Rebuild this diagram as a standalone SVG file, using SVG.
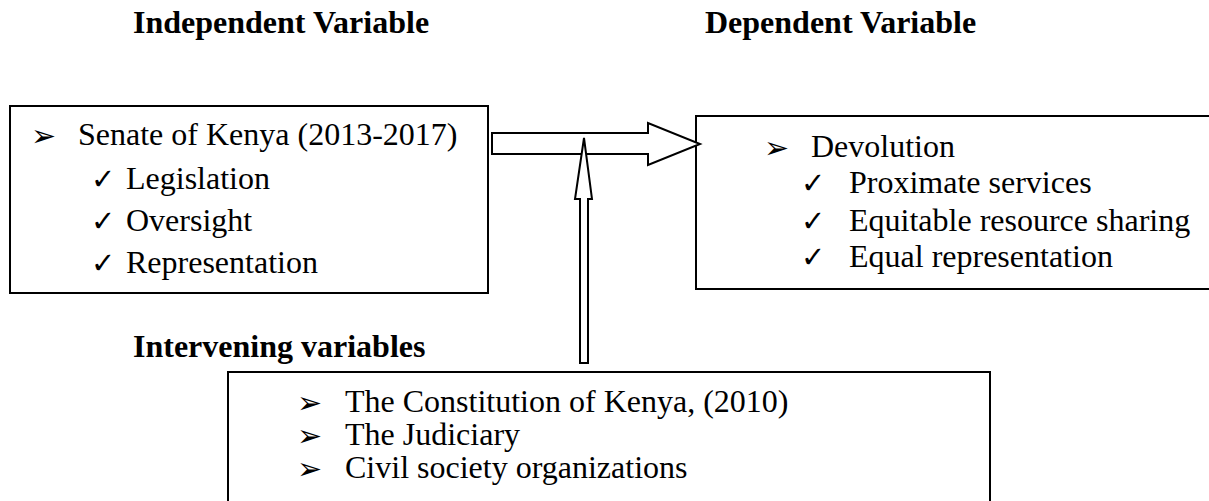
<svg xmlns="http://www.w3.org/2000/svg" width="1209" height="501" viewBox="0 0 1209 501">
<style>
.box{fill:#fff;stroke:#000;stroke-width:2}
.arrow{fill:#fff;stroke:#000;stroke-width:2;stroke-linejoin:miter}
.h{font-family:"Liberation Serif","Times New Roman",serif;font-weight:bold;font-size:32px;fill:#000}
.t{font-family:"Liberation Serif","Times New Roman",serif;font-size:32px;fill:#000}
.bul{font-family:"DejaVu Sans",sans-serif;font-size:30px;fill:#000}
.chk{font-family:"DejaVu Sans",sans-serif;font-size:29px;fill:#000}
</style>
<rect width="1209" height="501" fill="#fff"/>
<g id="headings">
<text class="h" x="133" y="33">Independent Variable</text>
<text class="h" x="705" y="33">Dependent Variable</text>
<text class="h" x="133" y="357">Intervening variables</text>
</g>
<g id="independent">
<rect class="box" x="10" y="106" width="478" height="187"/>
<text class="bul" x="31" y="146">➢</text>
<text class="t" x="78" y="145">Senate of Kenya (2013-2017)</text>
<text class="chk" x="91" y="189">✓</text>
<text class="t" x="126" y="189">Legislation</text>
<text class="chk" x="91" y="231">✓</text>
<text class="t" x="126" y="231">Oversight</text>
<text class="chk" x="91" y="273">✓</text>
<text class="t" x="126" y="273">Representation</text>
</g>
<g id="dependent">
<rect class="box" x="696" y="116" width="600" height="173"/>
<text class="bul" x="764" y="158">➢</text>
<text class="t" x="811" y="157">Devolution</text>
<text class="chk" x="801" y="193">✓</text>
<text class="t" x="849" y="193">Proximate services</text>
<text class="chk" x="801" y="231">✓</text>
<text class="t" x="849" y="231">Equitable resource sharing</text>
<text class="chk" x="801" y="267">✓</text>
<text class="t" x="849" y="267">Equal representation</text>
</g>
<g id="intervening">
<rect class="box" x="228" y="372" width="762" height="200"/>
<text class="bul" x="297" y="413">➢</text>
<text class="t" x="345" y="412">The Constitution of Kenya, (2010)</text>
<text class="bul" x="297" y="446">➢</text>
<text class="t" x="345" y="445">The Judiciary</text>
<text class="bul" x="297" y="479">➢</text>
<text class="t" x="345" y="478">Civil society organizations</text>
</g>
<g id="connectors">
<polygon class="arrow" points="492,133 648,133 648,123 700,144 648,165 648,154 492,154"/>
<polygon class="arrow" points="580,363 588,363 588,199 592,199 584,138 575,199 580,199"/>
</g>
</svg>
